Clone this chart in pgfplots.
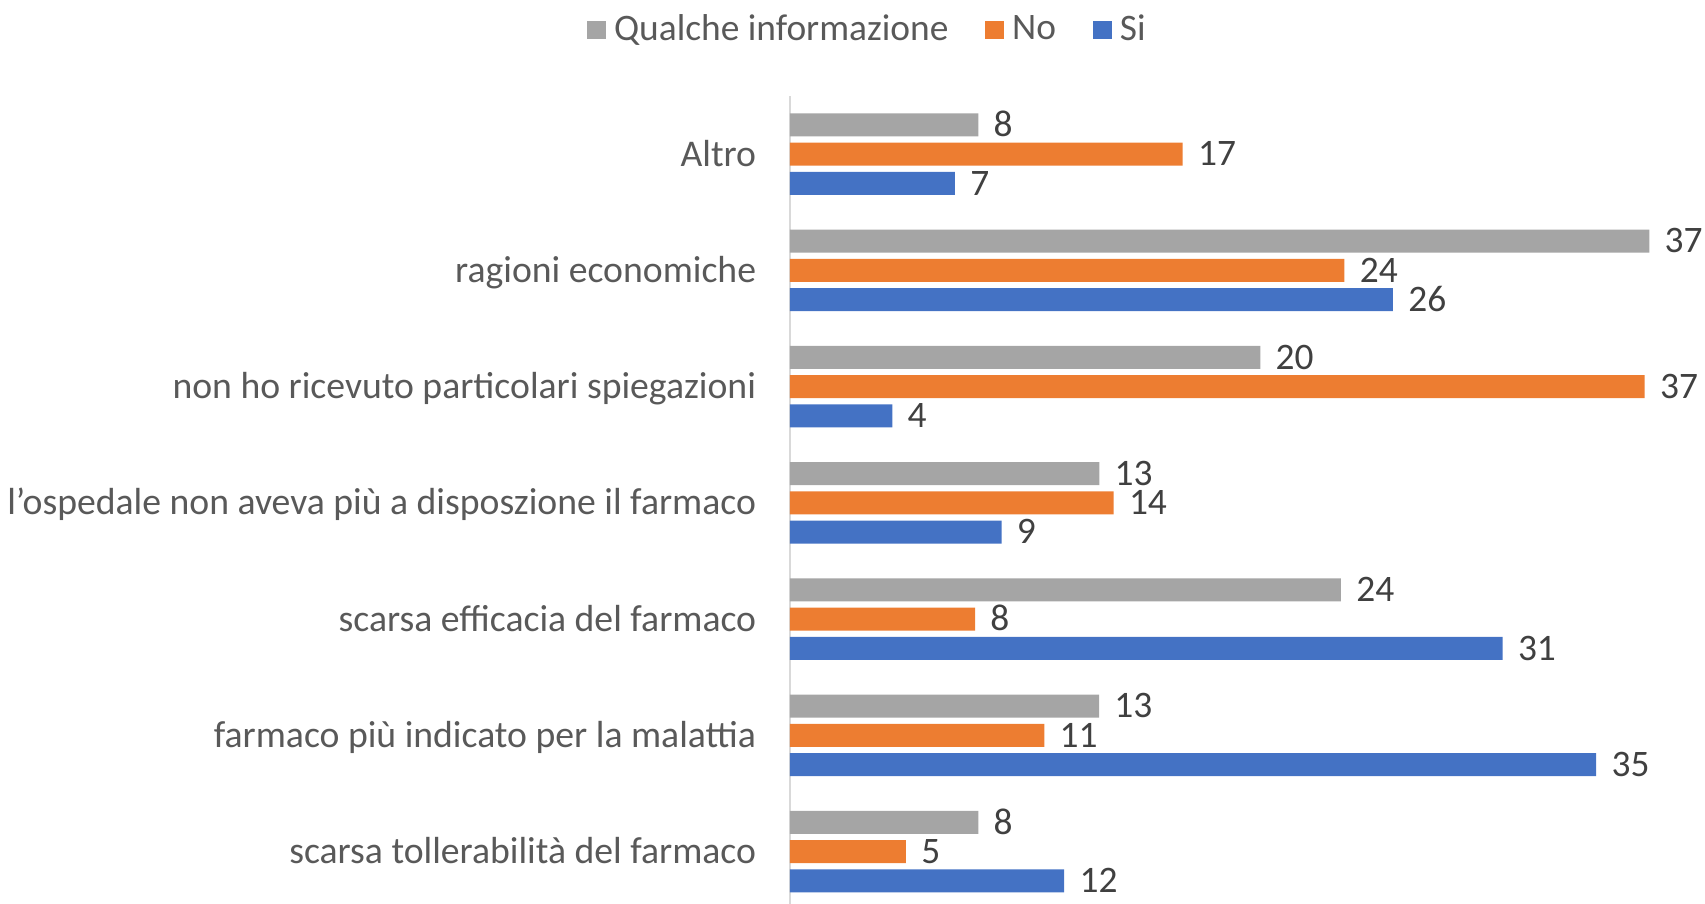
\documentclass[border=0pt]{standalone}
\usepackage{pgfplots}
\pgfplotsset{compat=1.18}
\usepackage{fontspec}
\setmainfont{Carlito}
\definecolor{cq}{HTML}{A5A5A5}
\definecolor{cn}{HTML}{ED7D31}
\definecolor{cs}{HTML}{4472C4}
\definecolor{txt}{HTML}{595959}
\definecolor{lbl}{HTML}{404040}
\definecolor{axl}{HTML}{D9D9D9}
\begin{document}
\fontsize{18.7}{22.4}\selectfont
\begin{tikzpicture}[font=\fontsize{18.7}{22.4}\selectfont]
\begin{axis}[
  name=ax,
  scale only axis, width=457.5pt, height=404pt,
  xbar, bar width=0.198,
  xmin=0, xmax=39.61, ymin=-0.45, ymax=6.5,
  clip=false,
  axis lines*=left,
  x axis line style={draw=none},
  y axis line style={draw=axl, line width=0.75pt},
  xtick=\empty,
  ytick={0,...,6},
  yticklabels={scarsa tollerabilità del farmaco, farmaco più indicato per la malattia, scarsa efficacia del farmaco, l’ospedale non aveva più a disposzione il farmaco, non ho ricevuto particolari spiegazioni, ragioni economiche, Altro},
  major tick length=0pt,
  tick style={draw=none},
  yticklabel style={anchor=base east, inner sep=0pt, xshift=-16.75pt, yshift=-6pt, text=txt, font=\fontsize{18.85}{22.6}\selectfont},
  nodes near coords,
  point meta=x,
  /pgf/number format/fixed,
  /pgf/number format/precision=0,
  /pgf/number format/assume math mode=true,
  every node near coord/.append style={anchor=base west, inner sep=0pt, xshift=7.5pt, yshift=-5.9pt, text=lbl},
  legend columns=-1,
  legend style={draw=none, fill=none, at={(0.0836,1.0813)}, anchor=center, text=txt,
    inner xsep=0pt, inner ysep=0pt,
    nodes={inner sep=0pt},
    /tikz/every even column/.append style={column sep=18.5pt}},
  legend image code/.code={\fill[#1] (0pt,-4.6pt) rectangle (9.25pt,4.65pt); \path (13.4pt,0pt);},
]
\addplot[fill=cq, draw=none, bar shift=0.252] coordinates {(8.15,0) (13.38,1) (23.85,2) (13.39,3) (20.36,4) (37.2,5) (8.15,6)};
\addplot[fill=cn, draw=none, bar shift=0] coordinates {(5.02,0) (11.01,1) (8.01,2) (14.01,3) (37.0,4) (24.0,5) (17.0,6)};
\addplot[fill=cs, draw=none, bar shift=-0.252] coordinates {(11.87,0) (34.9,1) (30.85,2) (9.16,3) (4.43,4) (26.1,5) (7.14,6)};
\legend{Qualche informazione, No, Si}
\end{axis}
\pgfresetboundingbox
\useasboundingbox ([xshift=-395pt]ax.south west) rectangle ([yshift=452pt]ax.south east);
\end{tikzpicture}
\end{document}
